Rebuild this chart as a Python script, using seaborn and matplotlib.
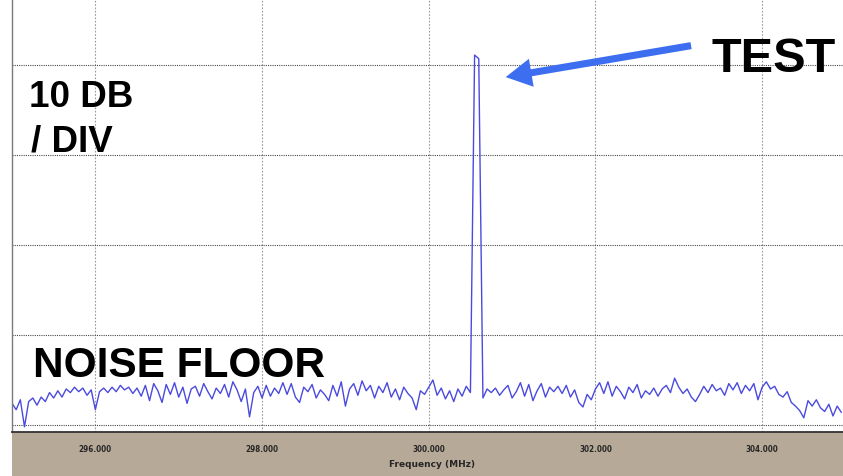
import numpy as np
import pandas as pd
import matplotlib
matplotlib.use("Agg")
import matplotlib.pyplot as plt
import matplotlib.patches as mpatches
from matplotlib.ticker import MultipleLocator, FormatStrFormatter
import seaborn as sns

# sweep settings (MHz)
start_mhz = 295.0
step_mhz = 0.05

# trace level (dB), one value per sweep point
level_db = [
    -97.6, -98.3, -97.2, -100.2, -97.4, -97.0, -97.8, -96.9, -97.4, -96.4,
    -97.0, -96.2, -96.9, -96.0, -96.4, -95.8, -96.3, -95.9, -96.7, -96.1,
    -98.3, -96.3, -95.9, -96.4, -95.8, -96.3, -95.6, -96.1, -95.8, -96.5,
    -95.9,
    -96.8, -95.6, -97.3, -95.4, -96.2, -97.5, -95.5, -96.6, -95.3, -96.9,
    -95.8, -97.6, -96.0, -95.7, -96.8, -95.4, -96.3, -97.1, -95.9, -96.5,
    -95.5, -96.9, -95.2, -96.1, -97.4, -96.0, -99.1, -96.4, -95.7, -97.0,
    -95.6, -96.8, -95.9, -96.5,
    -95.3, -96.6, -95.4, -96.9, -97.5, -95.8, -96.3, -95.5, -97.0, -96.1,
    -96.6, -97.3, -95.6, -96.8, -95.2, -97.9, -96.0, -95.4, -96.7, -95.1,
    -96.2, -95.6, -97.0, -95.7, -96.4, -95.3, -96.9, -96.0, -97.2, -95.8,
    -96.5, -97.0, -98.3, -96.2,
    -96.6, -95.8, -95.0, -96.7, -95.9, -97.1, -96.2, -97.4, -96.0, -96.8,
    -95.7, -96.4, -58.9, -59.3, -97.0, -96.0, -96.4, -95.9, -96.7, -96.1,
    -95.6, -97.0, -96.3, -95.3, -96.8, -95.5, -97.3, -96.2, -95.4, -96.9,
    -95.8, -96.3, -95.7,
    -96.5, -95.6, -96.9, -96.1, -97.5, -98.0, -96.6, -97.2, -96.0, -95.3,
    -96.5, -95.2, -96.8, -95.7, -96.3, -97.1, -95.8, -96.4, -95.5, -97.0,
    -96.2, -96.6, -95.9, -96.8, -96.0, -95.6, -96.4, -94.8, -95.8, -96.5,
    -96.0, -96.9, -97.4, -96.6,
    -95.7, -96.4, -95.5, -96.2, -95.9, -96.7, -95.4, -96.1, -95.3, -96.5,
    -95.6, -96.2, -95.4, -97.2, -95.8, -95.2, -96.0, -95.7, -96.6, -96.9,
    -96.3, -97.5, -97.9, -98.4, -99.2, -97.3, -97.9, -97.2, -98.1, -98.5,
    -97.7, -99.0, -97.9, -98.6,
]

freq_mhz = start_mhz + step_mhz * np.arange(len(level_db))
df = pd.DataFrame({"freq": freq_mhz, "level": level_db})

sns.set_style("white")
plt.rcParams["font.family"] = ["Liberation Sans", "DejaVu Sans"]

fig = plt.figure(figsize=(8.43, 4.76), dpi=100)
fig.patch.set_facecolor("white")

# tan strip under the frequency axis
fig.add_artist(mpatches.Rectangle((12 / 843, 0), 1 - 12 / 843, 48 / 476,
                                  transform=fig.transFigure, facecolor="#b6a998",
                                  edgecolor="none", zorder=-1))

ax = fig.add_axes([12 / 843, 44 / 476, 1 - 12 / 843, 432 / 476])
ax.set_facecolor("white")

sns.lineplot(data=df, x="freq", y="level", ax=ax, color="#4a4ade",
             linewidth=1.0, estimator=None)

ax.set_xlim(295.0, 304.97)
ax.set_ylim(-100.78, -52.78)

# grid: 2 MHz and 10 dB per division
ax.xaxis.set_major_locator(MultipleLocator(2))
ax.xaxis.set_minor_locator(MultipleLocator(0.5))
ax.xaxis.set_major_formatter(FormatStrFormatter("%.3f"))
ax.yaxis.set_major_locator(MultipleLocator(10))
ax.grid(axis="x", which="major", linestyle=(0, (1.5, 1.5)), color="#9a9a9a", linewidth=0.8)
ax.grid(axis="y", which="major", linestyle=(0, (1, 1)), color="#4a4a4a", linewidth=0.8)
ax.set_axisbelow(True)

ax.tick_params(axis="y", left=False, labelleft=False)
ax.tick_params(axis="x", which="both", direction="out", color="#333333", width=0.8)
ax.tick_params(axis="x", which="major", length=4, pad=5, labelsize=5.8)
ax.tick_params(axis="x", which="minor", length=3)
for lbl in ax.get_xticklabels():
    lbl.set_fontfamily(["DejaVu Sans"])
    lbl.set_fontweight("bold")
    lbl.set_fontstretch("condensed")

for side in ["top", "right"]:
    ax.spines[side].set_visible(False)
ax.spines["left"].set_color("#7a7a7a")
ax.spines["left"].set_linewidth(1.0)
ax.spines["bottom"].set_color("#333333")
ax.spines["bottom"].set_linewidth(1.3)

ax.set_ylabel("")
ax.set_xlabel("Frequency (MHz)", fontsize=6.5, fontweight="bold",
              family=["DejaVu Sans"], va="center")
ax.xaxis.set_label_coords(0.505, -0.076)

# annotations
bold = dict(fontweight="bold", color="black", family=["Liberation Sans", "DejaVu Sans"])
fig.text(29 / 843, 1 - 107 / 476, "10 DB", fontsize=26.5, va="baseline", ha="left", **bold)
fig.text(31 / 843, 1 - 152 / 476, "/ DIV", fontsize=26.5, va="baseline", ha="left", **bold)
fig.text(33 / 843, 1 - 377 / 476, "NOISE FLOOR", fontsize=30.5, va="baseline", ha="left", **bold)
fig.text(712 / 843, 1 - 72 / 476, "TEST", fontsize=35, va="baseline", ha="left", **bold)

arrow = mpatches.FancyArrowPatch(
    (303.18, -57.8), (300.89, -61.4),
    arrowstyle=mpatches.ArrowStyle.Simple(head_length=0.55, head_width=0.6, tail_width=0.15),
    mutation_scale=34, color="#3e6ef0", linewidth=0, zorder=5)
ax.add_patch(arrow)

fig.savefig("out.png", dpi=100)
